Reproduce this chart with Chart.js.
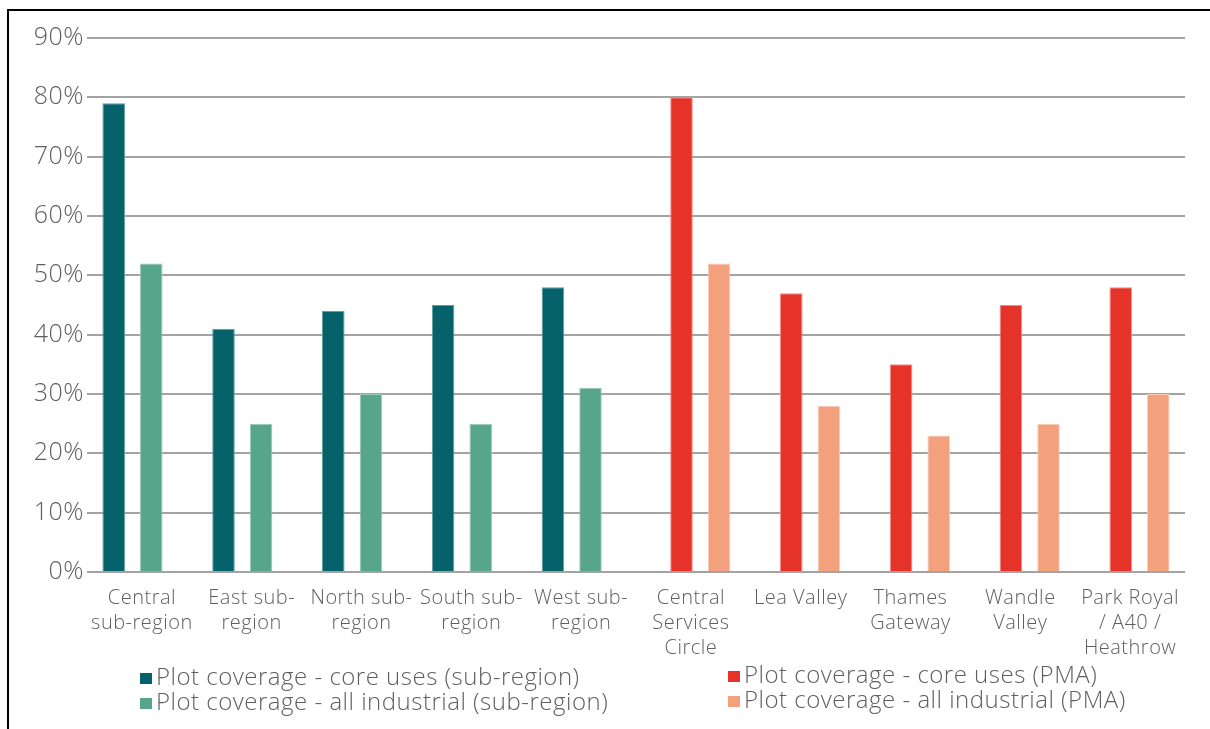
<!DOCTYPE html>
<html>
<head>
<meta charset="utf-8">
<script src="https://cdn.jsdelivr.net/npm/chart.js@4.4.1/dist/chart.umd.min.js"></script>
<style>
  html, body { margin: 0; padding: 0; background: #fff; overflow: hidden; }
  #wrap { position: relative; width: 1210px; height: 729px; }
  #frame {
    position: absolute; left: 7px; top: 9px; width: 1220px; height: 740px;
    border-top: 2px solid #000; border-left: 2px solid #000;
    pointer-events: none;
  }
  canvas { position: absolute; left: 0; top: 0; }
</style>
</head>
<body>
<div id="wrap">
  <div id="frame"></div>
  <canvas id="chart" width="1210" height="729"></canvas>
</div>
<script>
// categories and values (percent)
const categories = [
  ['Central', 'sub-region'],
  ['East sub-', 'region'],
  ['North sub-', 'region'],
  ['South sub-', 'region'],
  ['West sub-', 'region'],
  ['Central', 'Services', 'Circle'],
  ['Lea Valley'],
  ['Thames', 'Gateway'],
  ['Wandle', 'Valley'],
  ['Park Royal', '/ A40 /', 'Heathrow']
];
const coreSubRegion = [79, 41, 44, 45, 48, null, null, null, null, null];
const allSubRegion  = [52, 25, 30, 25, 31, null, null, null, null, null];
const corePMA       = [null, null, null, null, null, 80, 47, 35, 45, 48];
const allPMA        = [null, null, null, null, null, 52, 28, 23, 25, 30];
const yMax = 90;
const yStep = 10;

const FONT = '"Open Sans", Lato, sans-serif';
const TEXT = '#5f5f5f';

// order matters: slots inside each category go teal, red, green, salmon
const datasets = [
  { label: 'Plot coverage - core uses (sub-region)', data: coreSubRegion, backgroundColor: '#05626a', borderColor: '#5f9da1', col: 0, row: 0 },
  { label: 'Plot coverage - core uses (PMA)', data: corePMA, backgroundColor: '#e6332a', borderColor: '#f08a84', col: 1, row: 0 },
  { label: 'Plot coverage - all industrial (sub-region)', data: allSubRegion, backgroundColor: '#57a68b', borderColor: '#9ccab9', col: 0, row: 1 },
  { label: 'Plot coverage - all industrial (PMA)', data: allPMA, backgroundColor: '#f3a07c', borderColor: '#f9cdb9', col: 1, row: 1 }
];
datasets.forEach(d => { d.borderWidth = 1; d.categoryPercentage = 0.685; d.barPercentage = 1.2; });

// slightly wider letter spacing for all canvas text
const spacingPlugin = {
  id: 'spacing',
  beforeDraw(chart) { chart.ctx.letterSpacing = '0.5px'; }
};

// two-column legend under the axis
const legendPlugin = {
  id: 'twoColLegend',
  afterDraw(chart) {
    const ctx = chart.ctx;
    const colX = [140, 728];
    const rowY = [678, 703];
    ctx.save();
    ctx.letterSpacing = '0.5px';
    ctx.font = '300 24px ' + FONT;
    ctx.textBaseline = 'middle';
    ctx.textAlign = 'left';
    chart.data.datasets.forEach(ds => {
      const x = colX[ds.col];
      const y = rowY[ds.row] - (ds.col === 1 ? 2 : 0);
      ctx.fillStyle = ds.backgroundColor;
      ctx.fillRect(x, y - 5, 12, 11);
      ctx.fillStyle = TEXT;
      ctx.fillText(ds.label, x + 16, y);
    });
    ctx.restore();
  }
};

new Chart(document.getElementById('chart'), {
  type: 'bar',
  data: { labels: categories, datasets: datasets },
  options: {
    responsive: false,
    animation: false,
    layout: { padding: { top: 38, right: 25, left: 0, bottom: 0 } },
    plugins: { legend: { display: false }, tooltip: { enabled: false } },
    scales: {
      x: {
        grid: { display: false },
        border: { display: false },
        ticks: {
          font: { family: FONT, size: 20, weight: 300, lineHeight: 1.25 },
          color: TEXT,
          padding: 6,
          maxRotation: 0,
          autoSkip: false
        },
        afterFit(scale) { scale.height = 157; }
      },
      y: {
        min: 0,
        max: yMax,
        border: { display: false },
        grid: { color: '#a3a3a3', lineWidth: 2, drawTicks: false },
        ticks: {
          stepSize: yStep,
          padding: 3,
          font: { family: FONT, size: 25, weight: 300 },
          color: TEXT,
          callback: v => v + '%'
        },
        afterFit(scale) { scale.width = 87; }
      }
    }
  },
  plugins: [spacingPlugin, legendPlugin]
});
</script>
</body>
</html>
